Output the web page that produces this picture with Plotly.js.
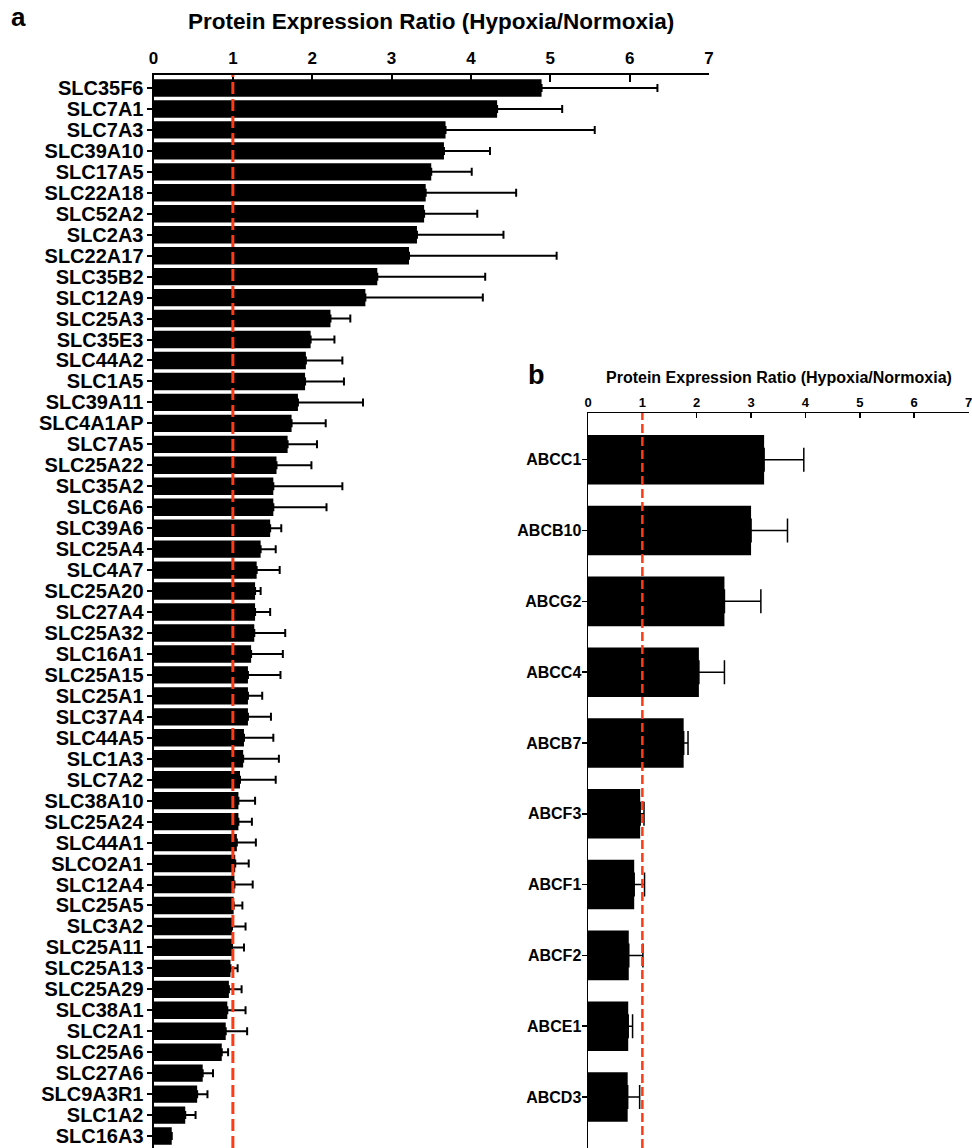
<!DOCTYPE html>
<html>
<head>
<meta charset="utf-8">
<script src="https://cdn.plot.ly/plotly-3.0.1.min.js"></script>
<style>html,body{margin:0;padding:0;background:#fff;}#chart{width:972px;height:1148px;}</style>
</head>
<body>
<div id="chart"></div>
<script>
// ---- Panel a data (SLC transporters) ----
const slcGenes = ["SLC35F6","SLC7A1","SLC7A3","SLC39A10","SLC17A5","SLC22A18","SLC52A2","SLC2A3","SLC22A17","SLC35B2","SLC12A9","SLC25A3","SLC35E3","SLC44A2","SLC1A5","SLC39A11","SLC4A1AP","SLC7A5","SLC25A22","SLC35A2","SLC6A6","SLC39A6","SLC25A4","SLC4A7","SLC25A20","SLC27A4","SLC25A32","SLC16A1","SLC25A15","SLC25A1","SLC37A4","SLC44A5","SLC1A3","SLC7A2","SLC38A10","SLC25A24","SLC44A1","SLCO2A1","SLC12A4","SLC25A5","SLC3A2","SLC25A11","SLC25A13","SLC25A29","SLC38A1","SLC2A1","SLC25A6","SLC27A6","SLC9A3R1","SLC1A2","SLC16A3"];
const slcRatio = [4.89,4.33,3.68,3.66,3.50,3.43,3.41,3.32,3.22,2.82,2.67,2.23,1.98,1.92,1.91,1.82,1.74,1.69,1.55,1.51,1.51,1.47,1.35,1.30,1.28,1.28,1.27,1.23,1.19,1.19,1.19,1.14,1.13,1.09,1.07,1.07,1.05,1.03,1.02,1.01,0.99,0.99,0.97,0.95,0.93,0.91,0.86,0.62,0.55,0.40,0.23];
const slcErr = [1.46,0.82,1.88,0.58,0.51,1.14,0.67,1.09,1.86,1.36,1.48,0.25,0.30,0.46,0.49,0.82,0.43,0.37,0.44,0.87,0.67,0.14,0.19,0.29,0.07,0.19,0.39,0.40,0.41,0.18,0.29,0.37,0.45,0.45,0.21,0.17,0.24,0.17,0.23,0.11,0.17,0.15,0.09,0.16,0.23,0.27,0.08,0.13,0.13,0.13,null];

// ---- Panel b data (ABC transporters) ----
const abcGenes = ["ABCC1","ABCB10","ABCG2","ABCC4","ABCB7","ABCF3","ABCF1","ABCF2","ABCE1","ABCD3"];
const abcRatio = [3.24,3.00,2.51,2.04,1.76,0.96,0.85,0.75,0.74,0.73];
const abcErr = [0.73,0.67,0.67,0.47,0.08,0.07,0.19,0.26,0.08,0.22];

const refRatio = 1;
const xTicks = [0,1,2,3,4,5,6,7];
const axisTitle = "Protein Expression Ratio (Hypoxia/Normoxia)";

const W = 972, H = 1148;
const FONT = "Arial, 'Liberation Sans', Helvetica, sans-serif";
const py = p => 1 - p / H;
const px = p => p / W;

const traces = [
  {
    type: "bar", orientation: "h",
    x: slcRatio, y: slcGenes,
    xaxis: "x", yaxis: "y",
    width: 0.83,
    marker: {color: "#000", line: {width: 0}},
    error_x: {type: "data", symmetric: false, array: slcErr, color: "#000", thickness: 2, width: 4},
    hoverinfo: "x+y", showlegend: false
  },
  {
    type: "bar", orientation: "h",
    x: abcRatio, y: abcGenes,
    xaxis: "x2", yaxis: "y2",
    width: 0.70,
    marker: {color: "#000", line: {width: 0}},
    error_x: {type: "data", symmetric: false, array: abcErr, color: "#000", thickness: 1.5, width: 12},
    hoverinfo: "x+y", showlegend: false
  }
];

const aTop = 75, bTop = 413;

const layout = {
  width: W, height: H,
  margin: {l: 0, r: 0, t: 0, b: 0, pad: 0},
  paper_bgcolor: "#fff",
  plot_bgcolor: "rgba(0,0,0,0)",
  showlegend: false,
  font: {family: FONT, color: "#000"},
  xaxis: {
    domain: [px(153.5), px(709)], anchor: "y", side: "top",
    range: [0, 7], tickmode: "array", tickvals: xTicks, ticktext: xTicks.map(String),
    showline: true, linecolor: "#000", linewidth: 2,
    ticks: "inside", ticklen: 7, tickwidth: 2, tickcolor: "#000",
    tickfont: {size: 17, weight: "bold", family: FONT, color: "#000"},
    ticklabelstandoff: 2, ticklabeloverflow: "allow",
    showgrid: false, zeroline: false, fixedrange: true
  },
  yaxis: {
    domain: [0, py(aTop)], anchor: "x",
    type: "category", autorange: false, range: [50.57, -0.62],
    tickmode: "array", tickvals: slcGenes, ticktext: slcGenes,
    showline: true, linecolor: "#000", linewidth: 2,
    ticks: "outside", ticklen: 5, tickwidth: 2, tickcolor: "#000",
    tickfont: {size: 20, weight: "bold", family: FONT, color: "#000"},
    ticklabelstandoff: -1, ticklabeloverflow: "allow",
    showgrid: false, zeroline: false, fixedrange: true
  },
  xaxis2: {
    domain: [px(588), px(968.5)], anchor: "y2", side: "top",
    range: [0, 7], tickmode: "array", tickvals: xTicks, ticktext: xTicks.map(String),
    showline: true, linecolor: "#000", linewidth: 1.5,
    ticks: "inside", ticklen: 5, tickwidth: 1.5, tickcolor: "#000",
    tickfont: {size: 13, weight: "bold", family: FONT, color: "#000"},
    ticklabelstandoff: -1, ticklabeloverflow: "allow",
    showgrid: false, zeroline: false, fixedrange: true
  },
  yaxis2: {
    domain: [0, py(bTop)], anchor: "x2",
    type: "category", autorange: false, range: [9.72, -0.66],
    tickmode: "array", tickvals: abcGenes, ticktext: abcGenes,
    showline: true, linecolor: "#000", linewidth: 1.5,
    ticks: "outside", ticklen: 5, tickwidth: 1.5, tickcolor: "#000",
    tickfont: {size: 16, weight: "bold", family: FONT, color: "#000"},
    ticklabelstandoff: -3, ticklabeloverflow: "allow",
    showgrid: false, zeroline: false, fixedrange: true
  },
  shapes: [
    {type: "line", xref: "x", yref: "paper", x0: refRatio, x1: refRatio, y0: 0, y1: py(aTop),
     line: {color: "#ff3b16", width: 3, dash: "12px,5px"}, layer: "above"},
    {type: "line", xref: "x2", yref: "paper", x0: refRatio, x1: refRatio, y0: 0, y1: py(bTop),
     line: {color: "#ff3b16", width: 2.5, dash: "9px,4px"}, layer: "above"}
  ],
  annotations: [
    {text: "a", xref: "paper", yref: "paper", x: px(18), y: py(17), xanchor: "center", yanchor: "middle",
     showarrow: false, font: {size: 26, weight: "bold", family: FONT, color: "#000"}},
    {text: axisTitle, xref: "paper", yref: "paper", x: px(431), y: py(22), xanchor: "center", yanchor: "middle",
     showarrow: false, font: {size: 22.5, weight: "bold", family: FONT, color: "#000"}},
    {text: "b", xref: "paper", yref: "paper", x: px(536), y: py(375), xanchor: "center", yanchor: "middle",
     showarrow: false, font: {size: 27, weight: "bold", family: FONT, color: "#000"}},
    {text: axisTitle, xref: "paper", yref: "paper", x: px(779), y: py(377), xanchor: "center", yanchor: "middle",
     showarrow: false, font: {size: 16, weight: "bold", family: FONT, color: "#000"}}
  ]
};

Plotly.newPlot("chart", traces, layout, {displayModeBar: false, staticPlot: true});
</script>
</body>
</html>
